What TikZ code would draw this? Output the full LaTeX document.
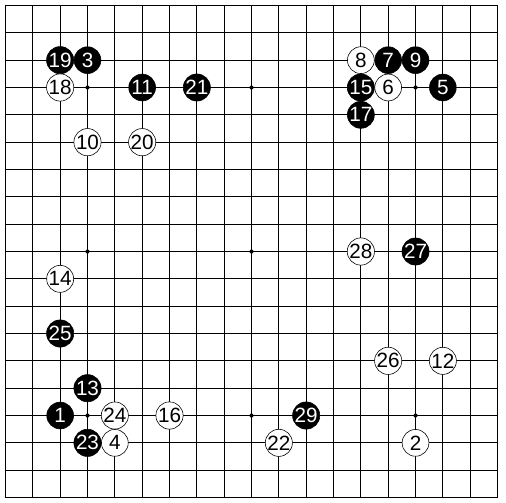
\documentclass[tikz,border=0pt]{standalone}
\usepackage{fontspec}
\setmainfont{Liberation Sans}
\tikzset{
  blackstone/.style = {circle, draw = black, fill = black, text = white,
    minimum size = 0.98cm, inner sep = 0pt, line width = 0.6pt,
    font = \fontsize{21.5}{21.5}\selectfont},
  whitestone/.style = {circle, draw = black, fill = white, text = black,
    minimum size = 0.98cm, inner sep = 0pt, line width = 0.6pt,
    font = \fontsize{21.5}{21.5}\selectfont},
}
\begin{document}
\begin{tikzpicture}[y = -1cm]

      \useasboundingbox[fill = white] (0.799, 0.799) rectangle (19.31, 19.20);

      % grid
      \foreach \i in {2, ..., 18} {
        \draw[line width = 0.8pt] (\i, 1) -- (\i, 19);
        \draw[line width = 0.8pt] (1, \i) -- (19, \i);
      }
      \draw[line width = 1.8pt] (1, 1) rectangle (19, 19);

      % hoshi
      \foreach \x in {4, 10, 16} {
        \foreach \y in {4, 10, 16} {
          \fill (\x, \y) circle (0.075);
        }
      }

      % black moves
      \foreach \x/\y/\n in {3/16/1, 4/3/3, 17/4/5, 15/3/7, 16/3/9, 6/4/11,
          4/15/13, 14/4/15, 14/5/17, 3/3/19, 8/4/21, 4/17/23, 3/13/25,
          16/10/27, 12/16/29} {
        \node[blackstone] (b\n) at (\x, \y) {\n};
      }

      % white moves
      \foreach \x/\y/\n in {16/17/2, 5/17/4, 15/4/6, 14/3/8, 4/6/10,
          17/14/12, 3/11/14, 7/16/16, 3/4/18, 6/6/20, 11/17/22, 5/16/24,
          15/14/26, 14/10/28} {
        \node[whitestone] (w\n) at (\x, \y) {\n};
      }

    \end{tikzpicture}
\end{document}
